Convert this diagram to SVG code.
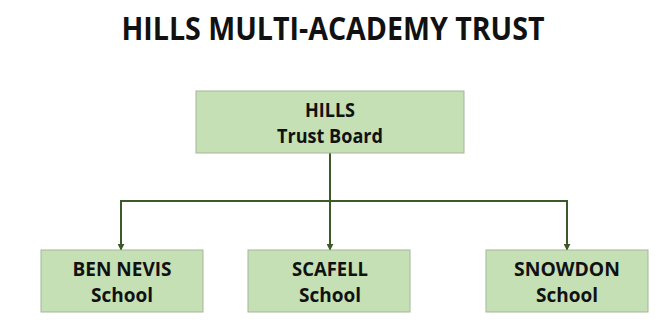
<svg xmlns="http://www.w3.org/2000/svg" width="670" height="325" viewBox="0 0 670 325">
<style>
.box{fill:#c5e0b4;stroke:#a6b59c;stroke-width:1}
.t{font-family:"Open Sans","Liberation Sans",sans-serif;font-weight:bold;fill:#111;text-anchor:middle}
.lbl{font-size:19px}
.title{font-size:32px}
.con{fill:none;stroke:#3b5a27;stroke-width:2}
</style>
<defs>
<marker id="ah" viewBox="0 0 10 10" refX="9" refY="5" markerWidth="3.5" markerHeight="3.5" orient="auto" markerUnits="strokeWidth">
<path d="M0,0 L10,5 L0,10 z" fill="#3b5a27"/>
</marker>
</defs>
<rect width="670" height="325" fill="#fff"/>
<text class="t title" x="333" y="40" textLength="423" lengthAdjust="spacingAndGlyphs">HILLS MULTI-ACADEMY TRUST</text>
<g id="connectors">
<path class="con" d="M330,153 V250" marker-end="url(#ah)"/>
<path class="con" d="M121,250 V201 H567 V250" marker-end="url(#ah)"/>
<path class="con" d="M121,201 V250" marker-end="url(#ah)"/>
</g>
<g id="trust-board">
<rect class="box" x="196" y="91" width="268" height="62"/>
<text class="t lbl" x="330" y="117" textLength="50" lengthAdjust="spacingAndGlyphs">HILLS</text>
<text class="t lbl" x="330" y="143" textLength="106" lengthAdjust="spacingAndGlyphs">Trust Board</text>
</g>
<g id="ben-nevis">
<rect class="box" x="41" y="250" width="162" height="62"/>
<text class="t lbl" x="122" y="276" textLength="99" lengthAdjust="spacingAndGlyphs">BEN NEVIS</text>
<text class="t lbl" x="122" y="302" textLength="62" lengthAdjust="spacingAndGlyphs">School</text>
</g>
<g id="scafell">
<rect class="box" x="248" y="250" width="162" height="62"/>
<text class="t lbl" x="330" y="276" textLength="76" lengthAdjust="spacingAndGlyphs">SCAFELL</text>
<text class="t lbl" x="330" y="302" textLength="62" lengthAdjust="spacingAndGlyphs">School</text>
</g>
<g id="snowdon">
<rect class="box" x="486" y="250" width="162" height="62"/>
<text class="t lbl" x="567" y="276" textLength="106" lengthAdjust="spacingAndGlyphs">SNOWDON</text>
<text class="t lbl" x="567" y="302" textLength="62" lengthAdjust="spacingAndGlyphs">School</text>
</g>
</svg>
